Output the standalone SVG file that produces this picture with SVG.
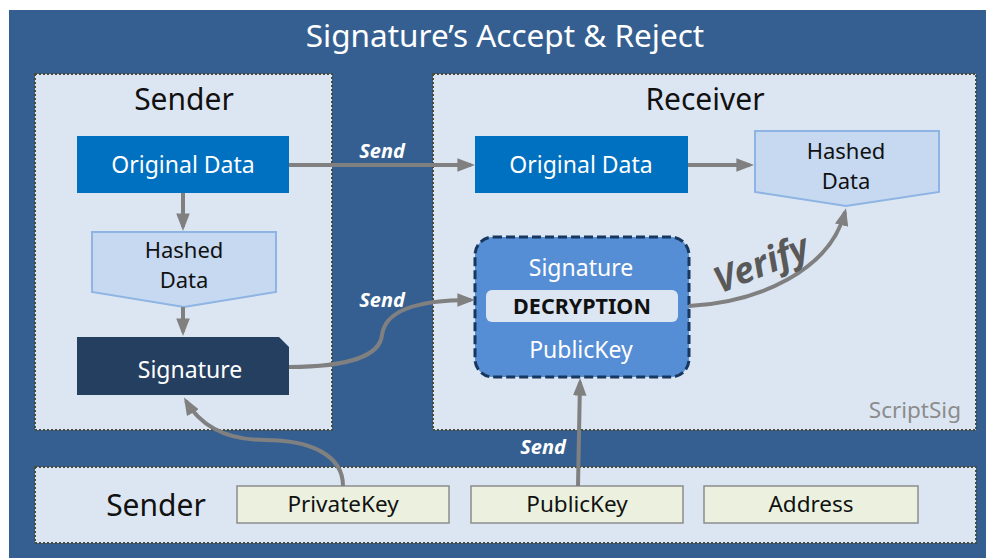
<svg xmlns="http://www.w3.org/2000/svg" width="986" height="558" viewBox="0 0 986 558">
<style>
text{font-family:"Noto Sans","Open Sans",sans-serif;}
.panel{fill:#DCE6F2;stroke:#4a4a36;stroke-width:2;stroke-dasharray:2 2;}
.hdr{font-size:30px;fill:#111;text-anchor:middle;}
.wt{fill:#fff;font-size:23px;text-anchor:middle;}
.dk{fill:#111;font-size:22.5px;text-anchor:middle;}
.hl{fill:#111;font-size:22px;text-anchor:middle;}
.hash{fill:#C6D9F1;stroke:#8DB4E2;stroke-width:2;}
.key{fill:#EBF1DE;stroke:#8c8c8c;stroke-width:1.5;}
.conn{fill:none;stroke:#808080;stroke-width:4;}
.send{fill:#fff;font-size:20px;font-weight:bold;font-style:italic;text-anchor:middle;}
</style>
<defs>
<marker id="ah" markerWidth="4.4" markerHeight="3.4" refX="3.4" refY="1.7" orient="auto" markerUnits="strokeWidth">
<path d="M0,0 L4.4,1.7 L0,3.4 Z" fill="#808080"/>
</marker>
</defs>
<rect x="0" y="0" width="986" height="558" fill="#ffffff"/>
<rect x="9" y="10" width="977" height="548" fill="#365F91"/>
<text x="505" y="47" font-size="31.5" fill="#fff" text-anchor="middle">Signature’s Accept &amp; Reject</text>

<g id="sender-panel">
<rect class="panel" x="35" y="74" width="297" height="356"/>
<text class="hdr" x="184" y="110">Sender</text>
</g>
<g id="receiver-panel">
<rect class="panel" x="433" y="74" width="543" height="356"/>
<text class="hdr" x="705" y="110">Receiver</text>
<text x="961" y="418" font-size="22.5" fill="#8c8c8c" text-anchor="end">ScriptSig</text>
</g>
<g id="bottom-panel">
<rect class="panel" x="35" y="467" width="941" height="76"/>
<text x="156" y="516" font-size="30" fill="#111" text-anchor="middle">Sender</text>
</g>

<g id="s-original">
<rect x="77" y="136" width="212" height="57" fill="#0070C0"/>
<text class="wt" x="183" y="173">Original Data</text>
</g>
<g id="s-hashed">
<path class="hash" d="M92,232 H276 V292 L184,307 L92,292 Z"/>
<text class="hl" x="184" y="258">Hashed</text>
<text class="hl" x="184" y="288">Data</text>
</g>
<g id="s-signature">
<path d="M77,337 H279 L289,347 V395 H77 Z" fill="#243F60"/>
<text class="wt" x="190" y="378">Signature</text>
</g>
<g id="r-original">
<rect x="475" y="136" width="213" height="57" fill="#0070C0"/>
<text class="wt" x="581" y="173">Original Data</text>
</g>
<g id="r-hashed">
<path class="hash" d="M755,131 H939 V192 L846,206 L755,192 Z"/>
<text class="hl" x="846" y="159">Hashed</text>
<text class="hl" x="846" y="189">Data</text>
</g>
<g id="decryption">
<rect x="475" y="237" width="214" height="140" rx="18" fill="#558ED5" stroke="#17375E" stroke-width="3" stroke-dasharray="9 4"/>
<text class="wt" x="581" y="276">Signature</text>
<rect x="486" y="290" width="192" height="32" rx="6" fill="#DCE6F2"/>
<text x="582" y="314" font-size="21.5" font-weight="bold" fill="#111" text-anchor="middle">DECRYPTION</text>
<text class="wt" x="581" y="358">PublicKey</text>
</g>
<g id="privatekey">
<rect class="key" x="237" y="486" width="212" height="37"/>
<text class="dk" x="343" y="512">PrivateKey</text>
</g>
<g id="publickey">
<rect class="key" x="471" y="486" width="212" height="37"/>
<text class="dk" x="577" y="512">PublicKey</text>
</g>
<g id="address">
<rect class="key" x="704" y="486" width="214" height="37"/>
<text class="dk" x="811" y="512">Address</text>
</g>

<g id="connectors">
<path class="conn" marker-end="url(#ah)" d="M289,165 H471"/>
<text class="send" x="382" y="158">Send</text>
<path class="conn" marker-end="url(#ah)" d="M183,193 V227"/>
<path class="conn" marker-end="url(#ah)" d="M183,307 V332"/>
<path class="conn" marker-end="url(#ah)" d="M688,165 H750"/>
<path class="conn" marker-end="url(#ah)" d="M289,367 C350,367 380,355 382,335 C385,310 420,300 471,300"/>
<text class="send" x="382" y="307">Send</text>
<path class="conn" marker-end="url(#ah)" d="M689,306 C760,302 830,270 845,212"/>
<text x="762" y="276" font-size="36" font-weight="bold" font-style="italic" fill="#595959" text-anchor="middle" transform="rotate(-22 762 266)">Verify</text>
<path class="conn" marker-end="url(#ah)" d="M343,486 C343,455 310,440 265,440 C225,440 200,425 186,401"/>
<path class="conn" marker-end="url(#ah)" d="M578,486 L580,382"/>
<text class="send" x="543" y="454">Send</text>
</g>
</svg>
